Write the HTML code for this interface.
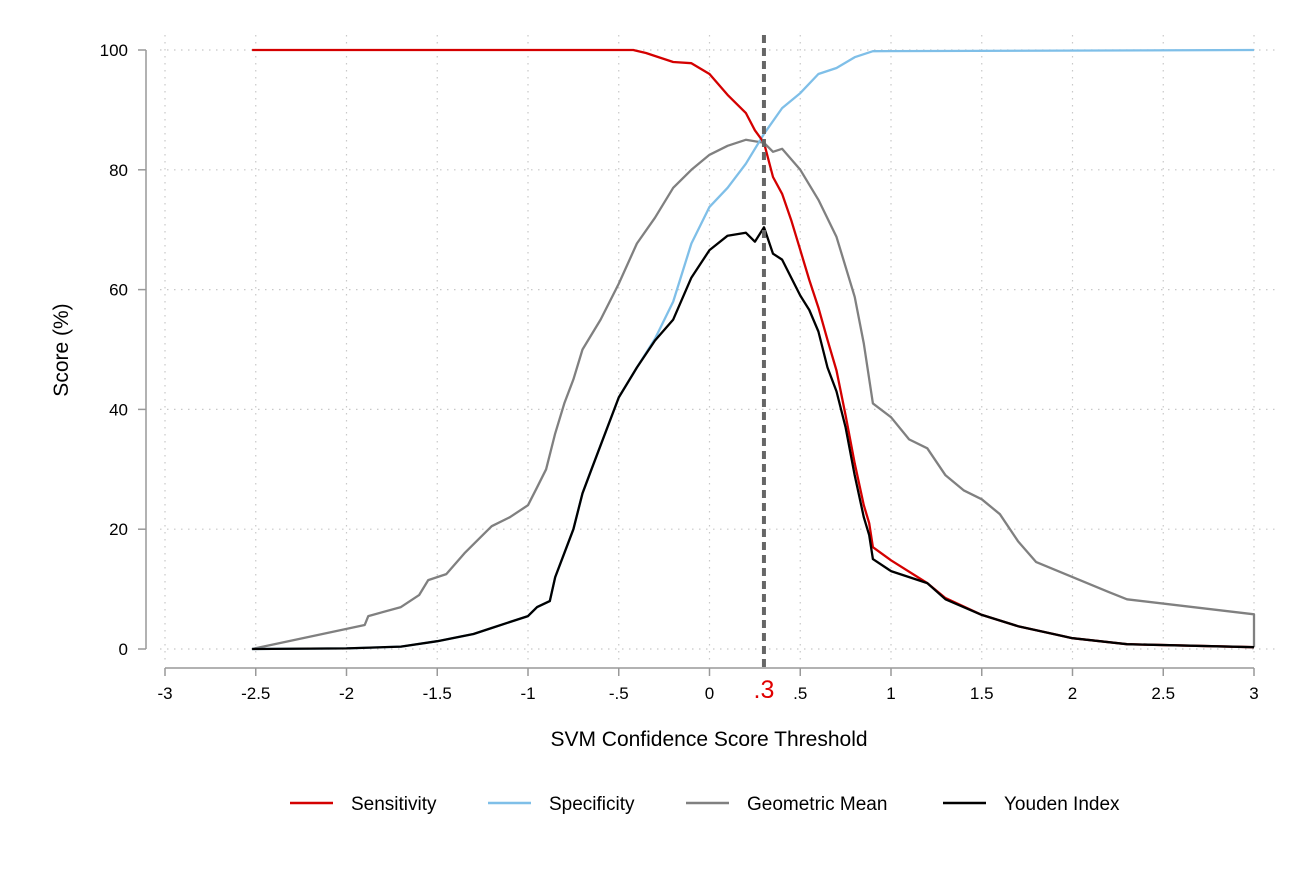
<!DOCTYPE html>
<html><head><meta charset="utf-8"><style>
body{margin:0;background:#fff;}
svg{display:block;font-family:"Liberation Sans",Arial,sans-serif;}
</style></head><body>
<svg id="chart" width="1305" height="870" viewBox="0 0 1305 870" xmlns="http://www.w3.org/2000/svg">
<g id="grid"></g>
<g id="axes"></g>
<g id="series"></g>
<text x="709" y="746" font-size="21" text-anchor="middle" fill="#000">SVM Confidence Score Threshold</text>
<text x="68" y="350" font-size="21" text-anchor="middle" fill="#000" transform="rotate(-90 68 350)">Score (%)</text>
<g font-size="19" fill="#000">
<g><line x1="290" y1="803" x2="333" y2="803" stroke="#d40000" stroke-width="2.5"/><text x="351" y="810">Sensitivity</text></g>
<g><line x1="488" y1="803" x2="531" y2="803" stroke="#7fbfe8" stroke-width="2.5"/><text x="549" y="810">Specificity</text></g>
<g><line x1="686" y1="803" x2="729" y2="803" stroke="#808080" stroke-width="2.5"/><text x="747" y="810">Geometric Mean</text></g>
<g><line x1="943" y1="803" x2="986" y2="803" stroke="#000" stroke-width="2.5"/><text x="1004" y="810">Youden Index</text></g>
</g>
</svg>
<script>
const xTicks=[-3,-2.5,-2,-1.5,-1,-0.5,0,0.5,1,1.5,2,2.5,3];
const xTickLabels=["-3","-2.5","-2","-1.5","-1","-.5","0",".5","1","1.5","2","2.5","3"];
const yTicks=[0,20,40,60,80,100];
const threshold=0.3;
const sensX=[-2.52,-0.42,-0.35,-0.3,-0.25,-0.2,-0.1,0,0.1,0.2,0.25,0.3,0.35,0.4,0.45,0.5,0.55,0.6,0.65,0.7,0.75,0.8,0.85,0.88,0.9,1,1.2,1.3,1.5,1.7,2,2.3,3];
const sensV=[100,100,99.5,99,98.5,98,97.8,96,92.5,89.5,86.6,84.5,78.8,76,71.6,66.6,61.6,57,51.6,46.5,39,31,24,21,17,14.8,11,8.5,5.7,3.8,1.8,0.8,0.3];
const specX=[-2.52,-2,-1.7,-1.5,-1.3,-1.2,-1.1,-1,-0.95,-0.88,-0.85,-0.8,-0.75,-0.7,-0.65,-0.6,-0.5,-0.4,-0.3,-0.2,-0.1,0,0.1,0.2,0.3,0.4,0.5,0.6,0.7,0.8,0.9,3];
const specV=[0,0.1,0.4,1.3,2.5,3.5,4.5,5.5,7,8,12,16,20,26,30,34,42,47,51.8,58,67.7,73.8,77,81,86,90.3,92.8,96,97,98.8,99.8,100];
const gmX=[-2.52,-1.9,-1.88,-1.7,-1.6,-1.55,-1.45,-1.35,-1.25,-1.2,-1.1,-1,-0.95,-0.9,-0.85,-0.8,-0.75,-0.7,-0.6,-0.5,-0.4,-0.3,-0.2,-0.1,0,0.1,0.2,0.3,0.35,0.4,0.5,0.6,0.7,0.8,0.85,0.9,1,1.1,1.2,1.3,1.4,1.5,1.6,1.7,1.8,2,2.2,2.3,3,3];
const gmV=[0,4,5.5,7,9,11.5,12.5,16,19,20.5,22,24,27,30,36,41,45,50,55,61,67.7,72,77,80,82.5,84,85,84.5,83,83.5,80,75,68.8,58.8,51,41,38.7,35,33.5,29,26.5,25,22.5,18,14.5,12,9.5,8.3,5.8,0.3];
const yjX=[-2.52,-2,-1.7,-1.5,-1.3,-1.2,-1.1,-1,-0.95,-0.88,-0.85,-0.8,-0.75,-0.7,-0.65,-0.6,-0.5,-0.4,-0.3,-0.2,-0.1,0,0.1,0.2,0.25,0.3,0.35,0.4,0.45,0.5,0.55,0.6,0.65,0.7,0.75,0.8,0.85,0.88,0.9,1,1.2,1.3,1.5,1.7,2,2.3,3];
const yjV=[0,0.1,0.4,1.3,2.5,3.5,4.5,5.5,7,8,12,16,20,26,30,34,42,47,51.5,55,62,66.6,69,69.5,68,70.4,66,65,62,59,56.6,53,47,43,37,29,22,19,15,13,11,8.3,5.7,3.8,1.8,0.8,0.3];

const NS="http://www.w3.org/2000/svg";
const sx=v=>709.5+181.5*v;
const sy=v=>649-5.99*v;
function mk(tag,attrs,parent){const e=document.createElementNS(NS,tag);for(const k in attrs)e.setAttribute(k,attrs[k]);parent.appendChild(e);return e;}
const grid=document.getElementById('grid'),axes=document.getElementById('axes'),series=document.getElementById('series');
yTicks.forEach(t=>{
  const l=mk('line',{x1:160,x2:1275,y1:sy(t),y2:sy(t),stroke:'#c8c8c8','stroke-width':1.2,'stroke-dasharray':'1.5 5.5'},grid);
  
  
  const tk=mk('line',{x1:138,x2:146,y1:sy(t),y2:sy(t),stroke:'#999','stroke-width':1.5},axes);
  
  
  const tx=mk('text',{x:128,y:sy(t)+6,'font-size':17,'text-anchor':'end',fill:'#000'},axes);
  tx.textContent=t;
  
  
});
xTicks.forEach((t,i)=>{
  const l=mk('line',{x1:sx(t),x2:sx(t),y1:35,y2:660,stroke:'#c8c8c8','stroke-width':1.2,'stroke-dasharray':'1.5 5.5'},grid);
  
  
  const tk=mk('line',{x1:sx(t),x2:sx(t),y1:668,y2:676,stroke:'#999','stroke-width':1.5},axes);
  
  
  const tx=mk('text',{x:sx(t),y:699,'font-size':17,'text-anchor':'middle',fill:'#000'},axes);
  tx.textContent=xTickLabels[i];
  
  
});
const ya=mk('line',{x1:146,x2:146,y1:sy(100),y2:sy(0),stroke:'#999','stroke-width':1.5},axes);


const xa=mk('line',{x1:sx(-3),x2:sx(3),y1:668,y2:668,stroke:'#999','stroke-width':1.5},axes);


function line(xs,vs,color,name){
  const d=xs.map((x,i)=>(i?'L':'M')+sx(x).toFixed(1)+' '+sy(vs[i]).toFixed(1)).join(' ');
  const p=mk('path',{d:d,fill:'none',stroke:color,'stroke-width':2.3,'stroke-linejoin':'round'},series);
  
  
}
line(gmX,gmV,'#808080','geometric-mean-line');
line(specX,specV,'#7fbfe8','specificity-line');
line(sensX,sensV,'#d40000','sensitivity-line');
line(yjX,yjV,'#000','youden-index-line');
const th=mk('line',{x1:sx(threshold),x2:sx(threshold),y1:35,y2:668,stroke:'#666','stroke-width':4,'stroke-dasharray':'8 5'},series);


const tl=mk('text',{x:sx(threshold),y:698,'font-size':25,'text-anchor':'middle',fill:'#e00000'},series);
tl.textContent='.3';


</script>
</body></html>
